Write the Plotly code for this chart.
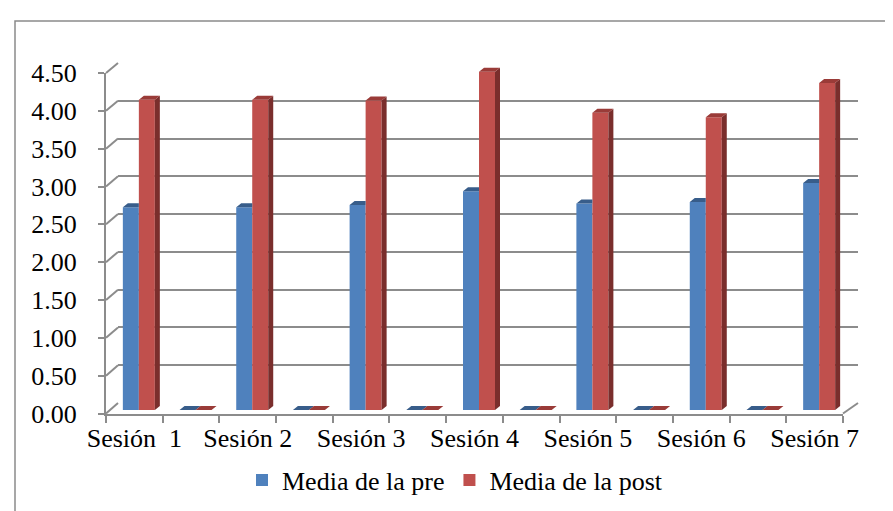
import plotly.graph_objects as go

# ---------------- data ----------------
categories = ["Sesión  1", "", "Sesión 2", "", "Sesión 3", "", "Sesión 4", "",
              "Sesión 5", "", "Sesión 6", "", "Sesión 7"]
media_pre = [2.68, 0, 2.68, 0, 2.71, 0, 2.89, 0, 2.73, 0, 2.75, 0, 3.00]
media_post = [4.10, 0, 4.10, 0, 4.09, 0, 4.47, 0, 3.93, 0, 3.87, 0, 4.32]
y_ticks = [0, 0.5, 1, 1.5, 2, 2.5, 3, 3.5, 4, 4.5]
series_names = ["Media de la pre", "Media de la post"]

# ---------------- geometry (pixels) ----------------
W, H = 893, 511
def px(x):
    return x / W
def py(y):
    return 1 - y / H

FONT = "Liberation Serif, Times New Roman, serif"
GRID = "#8c8c8c"
BLUE, BLUE_TOP = "#4F81BD", "#385D8A"
RED, RED_TOP, RED_SIDE = "#C0504D", "#9A3B38", "#7A2E2C"

# front plane
FX0, FX1, FY0, FY1 = 98, 835, 405.5, 65
# back plane (grid)
BX0, BX1, BY0, BY1 = 110, 850, 395, 55
# bars plane
BAR_X0, BAR_X1 = 102.5, 839.5
BAR_Y0 = 402
unit_px = (FY0 - FY1) / 4.5
BAR_YMAX = 5.0
BAR_Y1 = BAR_Y0 - BAR_YMAX * unit_px

n = len(categories)
xs = list(range(n))
cat_px = (BAR_X1 - BAR_X0) / n
bw = 16 / cat_px          # bar face width (category units)
dx = 5 / cat_px           # depth offset x
dy = 4 / unit_px          # depth offset y

fig = go.Figure()

# subplot 1: back grid
fig.add_trace(go.Scatter(x=[0], y=[0], mode="markers", marker=dict(opacity=0),
                         showlegend=False, hoverinfo="skip", xaxis="x", yaxis="y"))
# subplot 2: front axes
fig.add_trace(go.Scatter(x=[0], y=[0], mode="markers", marker=dict(opacity=0),
                         showlegend=False, hoverinfo="skip", xaxis="x2", yaxis="y2"))

# subplot 3: bars
fig.add_trace(go.Bar(x=xs, y=media_pre, offset=-bw, width=bw, name=series_names[0],
                     marker=dict(color=BLUE, line=dict(width=0)), xaxis="x3", yaxis="y3"))
fig.add_trace(go.Bar(x=xs, y=media_post, offset=0, width=bw, name=series_names[1],
                     marker=dict(color=RED, line=dict(width=0)), xaxis="x3", yaxis="y3"))

# blue top faces
bx, by = [], []
for x, a, b in zip(xs, media_pre, media_post):
    right = x if a < b else x + dx
    bx += [x - bw, x - bw + dx, right, x, x - bw, None]
    by += [a, a + dy, a + dy, a, a, None]
fig.add_trace(go.Scatter(x=bx, y=by, mode="lines", fill="toself", fillcolor=BLUE_TOP,
                         line=dict(width=0, color=BLUE_TOP), showlegend=False,
                         hoverinfo="skip", xaxis="x3", yaxis="y3"))
# red side faces
sx, sy = [], []
for x, b in zip(xs, media_post):
    sx += [x + bw, x + bw, x + bw + dx, x + bw + dx, x + bw, None]
    sy += [0, b, b + dy, dy, 0, None]
fig.add_trace(go.Scatter(x=sx, y=sy, mode="lines", fill="toself", fillcolor=RED_SIDE,
                         line=dict(width=0, color=RED_SIDE), showlegend=False,
                         hoverinfo="skip", xaxis="x3", yaxis="y3"))
# red top faces
rx, ry = [], []
for x, b in zip(xs, media_post):
    rx += [x, x + dx, x + bw + dx, x + bw, x, None]
    ry += [b, b + dy, b + dy, b, b, None]
fig.add_trace(go.Scatter(x=rx, y=ry, mode="lines", fill="toself", fillcolor=RED_TOP,
                         line=dict(width=0, color=RED_TOP), showlegend=False,
                         hoverinfo="skip", xaxis="x3", yaxis="y3"))

# decorative wall/floor edges connecting front ticks to back gridlines
shapes = []
for v in y_ticks:
    yf = FY0 - (FY0 - FY1) * v / 4.5
    yb = BY0 - (BY0 - BY1) * v / 4.5
    shapes.append(dict(type="line", xref="paper", yref="paper",
                       x0=px(FX0), y0=py(yf), x1=px(BX0), y1=py(yb),
                       line=dict(color=GRID, width=2)))
shapes.append(dict(type="line", xref="paper", yref="paper",
                   x0=px(FX1), y0=py(FY0), x1=px(BX1), y1=py(BY0),
                   line=dict(color=GRID, width=2)))
# outer chart border
shapes.append(dict(type="rect", xref="paper", yref="paper",
                   x0=px(7), y0=py(13), x1=px(W + 20), y1=py(H + 20),
                   line=dict(color="#8a8a8a", width=1.5)))

fig.update_layout(
    width=W, height=H,
    margin=dict(l=0, r=0, t=0, b=0, autoexpand=False),
    paper_bgcolor="white", plot_bgcolor="rgba(0,0,0,0)",
    barmode="overlay",
    font=dict(family=FONT, size=26, color="black"),
    showlegend=True,
    legend=dict(orientation="h", x=px(447), xanchor="center", y=py(472), yanchor="middle",
                font=dict(family=FONT, size=26, color="black"),
                bgcolor="rgba(0,0,0,0)", itemwidth=30, tracegroupgap=0),
    shapes=shapes,
    # back grid
    xaxis=dict(domain=[px(BX0), px(BX1)], range=[0, 1], visible=False, anchor="y",
               automargin=False),
    yaxis=dict(domain=[py(BY0), py(BY1)], range=[0, 4.5], anchor="x", automargin=False,
               tickvals=y_ticks, showgrid=True, gridcolor=GRID, gridwidth=2,
               showticklabels=False, zeroline=False, showline=False, ticks=""),
    # front axes
    xaxis2=dict(domain=[px(FX0), px(FX1)], range=[-0.5, n - 0.5], anchor="y2",
                automargin=False,
                tickmode="array", tickvals=xs, ticktext=categories, ticks="",
                showline=True, linecolor=GRID, linewidth=2, showgrid=False, zeroline=False,
                tickfont=dict(family=FONT, size=26, color="black"),
                minor=dict(tickmode="linear", tick0=-0.5, dtick=1, ticks="outside",
                           ticklen=7, tickcolor=GRID, tickwidth=2, showgrid=False)),
    yaxis2=dict(domain=[py(FY0), py(FY1)], range=[0, 4.5], anchor="x2", automargin=False,
                tickmode="array", tickvals=y_ticks, tickformat=".2f",
                ticks="outside", ticklen=6, tickcolor=GRID, tickwidth=2,
                showline=True, linecolor=GRID, linewidth=2, showgrid=False, zeroline=False,
                ticklabelstandoff=16,
                tickfont=dict(family=FONT, size=26, color="black")),
    # bars
    xaxis3=dict(domain=[px(BAR_X0), px(BAR_X1)], range=[-0.5, n - 0.5], anchor="y3",
                visible=False, automargin=False),
    yaxis3=dict(domain=[py(BAR_Y0), py(BAR_Y1)], range=[0, BAR_YMAX], anchor="x3",
                visible=False, automargin=False),
)

fig.write_html("out.html")
